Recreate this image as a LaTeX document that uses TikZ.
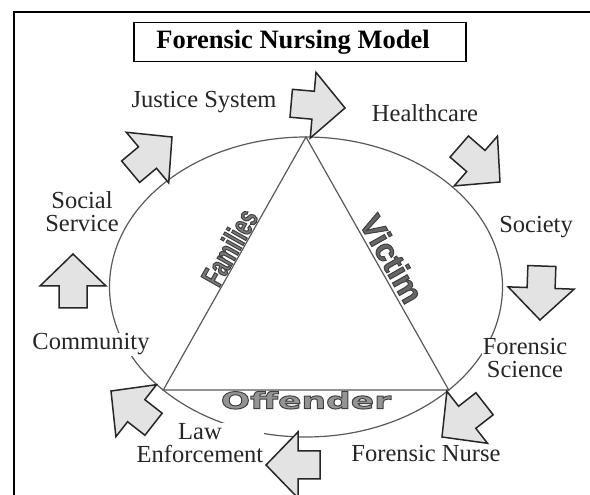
\documentclass[tikz,border=0pt]{standalone}
\usepackage{fontspec}
\setmainfont{Liberation Serif}
\newfontfamily\narrowfont{Liberation Sans}[FakeStretch=0.66]
\newfontfamily\sidefont{Liberation Sans}
\newfontfamily\roundfont{DejaVu Sans}[FakeStretch=1.5]
% outlined lettering: fill with the text colour, stroke in dark grey
\newcommand{\hollow}[1]{\special{pdf:literal 2 Tr 1 w 0.25 0.25 0.25 RG}#1\special{pdf:literal 0 Tr}}

\begin{document}
\begin{tikzpicture}
[x=1pt, y=1pt,
  lineDecorate/.style={draw=black!65, line width=1.2pt},%
  arrowDecorate/.style={draw=black!85, fill=black!11, line width=1.5pt, line join=miter},%
  labelDecorate/.style={text=black!85, fill=white, font=\fontsize{24.5}{23}\selectfont,
    align=center, inner sep=1pt, anchor=base},%
  wordDecorate/.style={text=black!50, inner sep=1pt}]
\useasboundingbox (0,0) rectangle (590,495);
%% frame and title
\draw[line width=1.5pt] (14,0) |- (590,483);
\node (title) at (300,453) [draw, line width=1.4pt, minimum width=332, minimum height=39,
  font=\bfseries\fontsize{26.5}{26}\selectfont] {Forensic Nursing Model\hspace*{14pt}};
%% ring and triangle
\coordinate (c) at (306,208);
\path (c) ++(90:196.5 and 150) coordinate (top)
      (c) ++(223.4:196.5 and 150) coordinate (left)
      (c) ++(-43.4:196.5 and 150) coordinate (right);
\draw[lineDecorate] (c) ellipse [x radius=196.5, y radius=150];
\draw[lineDecorate] (top) -- (right) -- (left) -- cycle;
%% labels (two-line ones sit on their last baseline)
\foreach \name/\x/\y/\txt in {
  justice/204/387/Justice System, health/425/373/Healthcare,
  social/82/263/{Social\\Service}, community/91/145/Community,
  society/536/262/Society, science/525/117/{Forensic\\Science},
  law/200/32/{Law\\Enforcement}, nurse/426/33/Forensic Nurse}
{
  \node (\name) at (\x,\y) [labelDecorate] {\txt};
}
%% block arrows round the ring: tip x / tip y / direction
\foreach \tipx/\tipy/\dir in {
  345/387/-5, 500/313/-41, 540/175/-92, 442/58/-142,
  266/30/180, 111/104/142, 73/241/90, 172/358/40}
{
  \draw[arrowDecorate, shift={(\tipx,\tipy)}, rotate=\dir]
    (0,0) -- (-32,33) -- (-32,14) -- (-54,14) -- (-54,-14) -- (-32,-14) -- (-32,-33) -- cycle;
}
%% words along the triangle
\path (left) -- node[sloped, above, pos=0.54, wordDecorate, text=black!52,
  font=\narrowfont\bfseries\fontsize{31}{31}\selectfont] (families) {\hollow{Families}} (top);
\path (top) -- node[sloped, above, pos=0.51, wordDecorate, text=black!60, inner sep=3pt,
  font=\sidefont\bfseries\fontsize{32}{32}\selectfont] (victim) {\hollow{Victim}} (right);
\path (left) -- node[below, pos=0.5, wordDecorate, text=black!42,
  font=\roundfont\bfseries\fontsize{23}{23}\selectfont] (offender) {\hollow{Offender}} (right);
\end{tikzpicture}
\end{document}
